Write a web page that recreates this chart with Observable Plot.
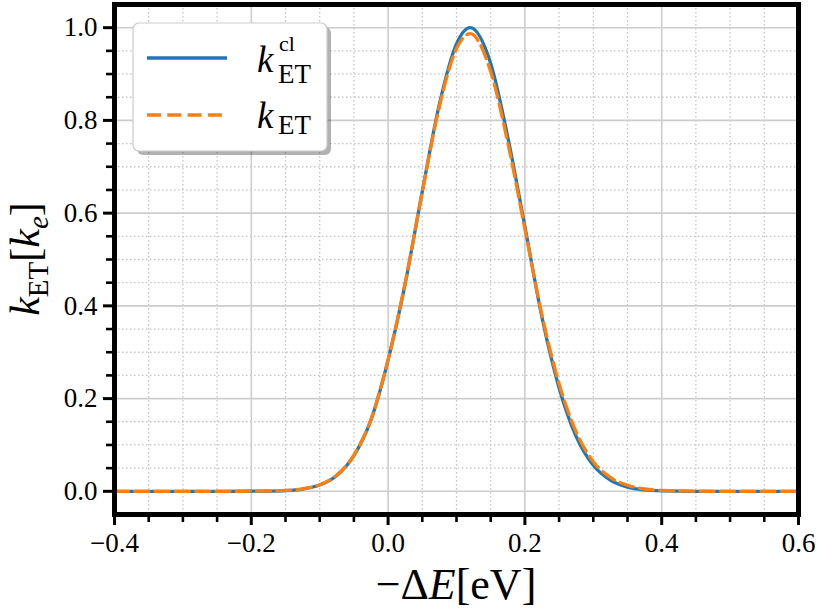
<!DOCTYPE html>
<html>
<head>
<meta charset="utf-8">
<script src="https://cdn.jsdelivr.net/npm/d3@7"></script>
<script src="https://cdn.jsdelivr.net/npm/@observablehq/plot@0.6"></script>
<style>
  html, body { margin: 0; padding: 0; background: white; }
  #chart { width: 817px; height: 609px; overflow: hidden; }
  #chart svg text { font-family: "Liberation Serif", serif !important; }
  #chart svg g[aria-label*="tick label"], #chart svg g[aria-label*="tick label"] text { font-size: 27px !important; }
</style>
</head>
<body>
<div id="chart"></div>
<script>
// ---- data ----
const dE  = [-0.4, -0.35, -0.3, -0.25, -0.2, -0.175, -0.15, -0.125, -0.1, -0.075, -0.05, -0.025, 0, 0.025, 0.05, 0.075, 0.1, 0.12, 0.15, 0.175, 0.2, 0.225, 0.25, 0.275, 0.3, 0.325, 0.35, 0.375, 0.4, 0.45, 0.5, 0.55, 0.6];
const kCl = [0, 0, 0, 0, 0.0002, 0.0005, 0.0015, 0.0048, 0.0135, 0.034, 0.077, 0.154, 0.283, 0.448, 0.647, 0.835, 0.965, 1.0, 0.923, 0.764, 0.571, 0.375, 0.223, 0.118, 0.056, 0.024, 0.009, 0.003, 0.001, 0, 0, 0, 0];
const kET = [0, 0, 0, 0, 0.0003, 0.0008, 0.002, 0.0055, 0.014, 0.035, 0.078, 0.155, 0.284, 0.45, 0.646, 0.83, 0.955, 0.987, 0.905, 0.752, 0.566, 0.38, 0.232, 0.128, 0.064, 0.030, 0.013, 0.005, 0.002, 0.0003, 0, 0, 0];

const xMajor = [-0.4, -0.2, 0.0, 0.2, 0.4, 0.6];
const xMinor = [-0.35, -0.3, -0.25, -0.15, -0.1, -0.05, 0.05, 0.1, 0.15, 0.25, 0.3, 0.35, 0.45, 0.5, 0.55];
const yMajor = [0.0, 0.2, 0.4, 0.6, 0.8, 1.0];
const yMinor = [0.05, 0.1, 0.15, 0.25, 0.3, 0.35, 0.45, 0.5, 0.55, 0.65, 0.7, 0.75, 0.85, 0.9, 0.95];

const rows = dE.map((x, i) => ({dE: x, kCl: kCl[i], kET: kET[i]}));
const fmt = d3.format(".1f");
const blank = () => "";
const serif = "Liberation Serif";

const plot = Plot.plot({
  width: 817,
  height: 609,
  marginLeft: 114,
  marginRight: 19,
  marginTop: 4,
  marginBottom: 95,
  x: {domain: [-0.4, 0.6]},
  y: {domain: [-0.05, 1.05]},
  style: {fontFamily: serif, fontSize: "27px", background: "white", color: "black"},
  marks: [
    Plot.gridX(xMinor, {stroke: "#c4c4c4", strokeOpacity: 1, strokeWidth: 1.3, strokeDasharray: "1.5,2.5"}),
    Plot.gridY(yMinor, {stroke: "#c4c4c4", strokeOpacity: 1, strokeWidth: 1.3, strokeDasharray: "1.5,2.5"}),
    Plot.gridX(xMajor, {stroke: "#cdcdcd", strokeOpacity: 1, strokeWidth: 1.6}),
    Plot.gridY(yMajor, {stroke: "#cdcdcd", strokeOpacity: 1, strokeWidth: 1.6}),
    Plot.line(rows, {x: "dE", y: "kCl", stroke: "#1f77b4", strokeWidth: 3.3, curve: "monotone-x"}),
    Plot.line(rows, {x: "dE", y: "kET", stroke: "#ff7f0e", strokeWidth: 3.3, strokeDasharray: "14,6.3", curve: "monotone-x"}),
    Plot.axisX(xMinor, {tickSize: 8, strokeWidth: 2.6, stroke: "black", tickFormat: blank, label: null}),
    Plot.axisY(yMinor, {tickSize: 8, strokeWidth: 2.6, stroke: "black", tickFormat: blank, label: null}),
    Plot.axisX(xMajor, {tickSize: 11, tickPadding: 7, strokeWidth: 3, stroke: "black", tickFormat: fmt, label: null, fontSize: 27}),
    Plot.axisY(yMajor, {tickSize: 11, tickPadding: 6, strokeWidth: 3, stroke: "black", tickFormat: fmt, label: null, fontSize: 27}),
    Plot.frame({stroke: "black", strokeWidth: 5})
  ]
});

document.getElementById("chart").appendChild(plot);

// ---- labels and legend (text decorations) ----
const svg = d3.select(plot);

// x label: −ΔE[eV]
const xl = svg.append("text")
  .attr("x", 456).attr("y", 599)
  .attr("text-anchor", "middle")
  .attr("font-family", serif).attr("font-size", 44).attr("fill", "black");
xl.append("tspan").text("−Δ");
xl.append("tspan").attr("font-style", "italic").text("E");
xl.append("tspan").text("[eV]");

// y label: k_ET[k_e]
const yl = svg.append("text")
  .attr("transform", "translate(39,259) rotate(-90)")
  .attr("text-anchor", "middle")
  .attr("font-family", serif).attr("font-size", 42).attr("fill", "black");
yl.append("tspan").attr("font-style", "italic").text("k");
yl.append("tspan").attr("font-size", 29).attr("dy", 9).text("ET");
yl.append("tspan").attr("dy", -9).text("[");
yl.append("tspan").attr("font-style", "italic").text("k");
yl.append("tspan").attr("font-style", "italic").attr("font-size", 29).attr("dy", 9).text("e");
yl.append("tspan").attr("dy", -9).text("]");

// legend
const lg = svg.append("g").attr("text-anchor", "start");
lg.append("rect").attr("x", 137).attr("y", 27).attr("width", 194).attr("height", 128)
  .attr("rx", 6).attr("fill", "#000").attr("opacity", 0.3);
lg.append("rect").attr("x", 133).attr("y", 23).attr("width", 194).attr("height", 128)
  .attr("rx", 6).attr("fill", "white").attr("stroke", "#cccccc").attr("stroke-width", 1.2);
lg.append("line").attr("x1", 147).attr("x2", 227).attr("y1", 58).attr("y2", 58)
  .attr("stroke", "#1f77b4").attr("stroke-width", 3.3);
lg.append("line").attr("x1", 147).attr("x2", 227).attr("y1", 115).attr("y2", 115)
  .attr("stroke", "#ff7f0e").attr("stroke-width", 3.3).attr("stroke-dasharray", "14,6.3");

function txt(x, y, size, s, italic) {
  return lg.append("text").attr("x", x).attr("y", y)
    .attr("text-anchor", "start")
    .attr("font-family", serif).attr("font-size", size)
    .attr("font-style", italic ? "italic" : "normal")
    .attr("fill", "black").text(s);
}
txt(257, 72, 37, "k", true);
txt(279, 51, 22, "cl", false);
txt(278, 83, 27, "ET", false);
txt(257, 128, 37, "k", true);
txt(278, 134, 27, "ET", false);
</script>
</body>
</html>
